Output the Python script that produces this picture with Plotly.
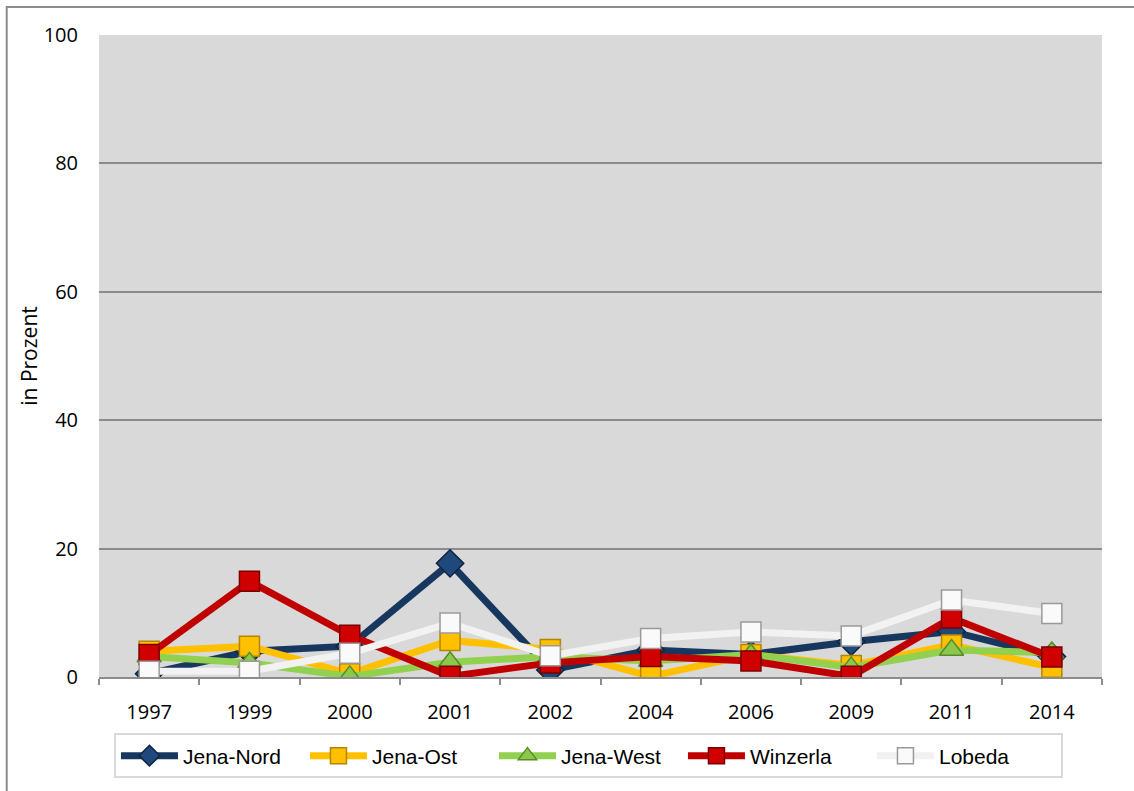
import plotly.graph_objects as go

years = ["1997", "1999", "2000", "2001", "2002", "2004", "2006", "2009", "2011", "2014"]

jena_nord = [0.5, 4.0, 4.8, 17.7, 1.1, 4.2, 3.5, 5.5, 7.1, 3.2]
jena_ost = [4.0, 4.8, 0.5, 5.7, 4.3, 0.1, 3.5, 1.8, 5.0, 1.5]
jena_west = [3.2, 2.2, 0.1, 2.3, 3.2, 2.5, 3.5, 1.5, 4.2, 3.8]
winzerla = [3.5, 14.9, 6.5, 0.1, 2.2, 3.2, 2.5, 0.1, 9.2, 3.1]
lobeda = [0.9, 0.9, 3.7, 8.4, 3.3, 6.0, 7.0, 6.4, 12.0, 9.9]

y_ticks = [0, 20, 40, 60, 80, 100]

# name, values, line colour, marker symbol, marker fill, marker outline, marker size
series = [
    ("Jena-Nord", jena_nord, "#17375e", "diamond", "#1f497d", "#0f2540", 21),
    ("Jena-Ost", jena_ost, "#ffc000", "square", "#ffc000", "#b38600", 20),
    ("Jena-West", jena_west, "#92d050", "triangle-up", "#8cc84b", "#5a8a2a", 21),
    ("Winzerla", winzerla, "#c00000", "square", "#d00000", "#7a0000", 20),
    ("Lobeda", lobeda, "#f2f2f2", "square", "#fafafa", "#9a9a9a", 20),
]

grid = "#8c8c8c"

fig = go.Figure()
for name, vals, lc, sym, mfill, mline, msize in series:
    fig.add_trace(go.Scatter(
        x=years, y=vals, name=name,
        mode="lines+markers",
        line=dict(color=lc, width=7),
        marker=dict(symbol=sym, size=msize, color=mfill, line=dict(color=mline, width=1.5)),
    ))

fig.update_layout(
    width=1134, height=791,
    margin=dict(l=99, r=32, t=35, b=112),
    paper_bgcolor="white",
    plot_bgcolor="#d9d9d9",
    font=dict(family="Open Sans, sans-serif", color="black", size=20),
    showlegend=True,
    legend=dict(
        orientation="h",
        x=0.488, xanchor="center",
        y=-0.088, yanchor="top",
        bordercolor="#d9d9d9", borderwidth=2,
        font=dict(family="Liberation Sans, Arial, sans-serif", size=21),
        itemwidth=57,
        entrywidth=117, entrywidthmode="pixels",
        traceorder="normal",
    ),
    xaxis=dict(
        type="category",
        range=[-0.5, 9.5],
        showline=True, linecolor=grid, linewidth=2,
        ticks="outside", tickson="boundaries", ticklen=6, tickcolor=grid, tickwidth=2,
        ticklabelstandoff=16,
        showgrid=False,
    ),
    yaxis=dict(
        range=[0, 100],
        tickvals=y_ticks,
        showgrid=True, gridcolor=grid, gridwidth=2,
        zeroline=False,
        showline=False,
        ticks="",
        ticklabelstandoff=20,
        title=dict(text="in Prozent", standoff=0, font=dict(size=21)),
    ),
    yaxis2=dict(
        overlaying="y", side="right", anchor="x",
        range=[0, 100], tickvals=y_ticks,
        showline=True, linecolor=grid, linewidth=3,
        ticks="outside", ticklen=8, tickcolor=grid, tickwidth=2,
        showticklabels=False, showgrid=False, zeroline=False,
    ),
    shapes=[dict(
        type="rect", xref="paper", yref="paper",
        x0=-0.092, x1=1.1, y0=-0.3, y1=1.0435,
        line=dict(color="#8c8c8c", width=2), fillcolor="rgba(0,0,0,0)",
        layer="below",
    )],
)

fig.write_html("out.html", config={"displayModeBar": False},
               post_script="document.body.style.margin='0';")
